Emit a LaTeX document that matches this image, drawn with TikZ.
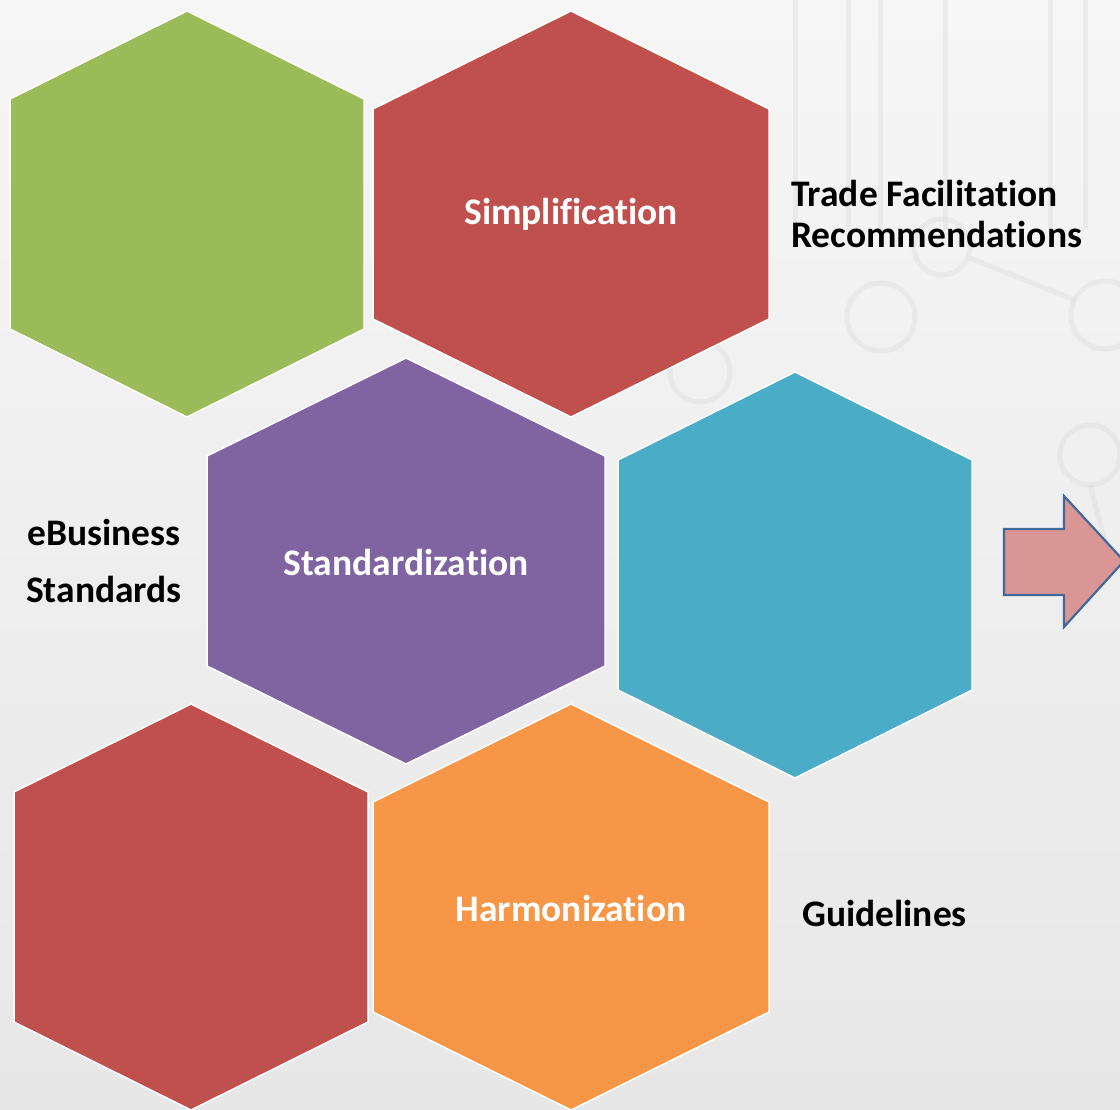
\documentclass[tikz,border=0pt]{standalone}
\usepackage{fontspec}
\setmainfont{Carlito}[Ligatures=NoCommon]
\usetikzlibrary{calc}
\usepackage{xcolor}

\definecolor{hexgreen}{HTML}{9BBB59}
\definecolor{hexred}{HTML}{C0504D}
\definecolor{hexpurple}{HTML}{8064A2}
\definecolor{hexcyan}{HTML}{4BACC6}
\definecolor{hexorange}{HTML}{F79646}
\definecolor{arrowpink}{HTML}{D99694}
\definecolor{arrowblue}{HTML}{41689A}
\definecolor{bgtop}{HTML}{F6F6F6}
\definecolor{bgbottom}{HTML}{E7E7E7}
\definecolor{metroline}{HTML}{D9D9D9}

\begin{document}
\begin{tikzpicture}[x=1pt,y=-1pt,
    hexlabel/.style={text=white,font=\bfseries\fontsize{37.5}{42}\selectfont},
    sidelabel/.style={text=black,font=\bfseries\fontsize{37.5}{41}\selectfont}]

        % Background
        \useasboundingbox (0,0) rectangle (1120,1110);
        \shade[top color=bgtop, bottom color=bgbottom] (0,0) rectangle (1120,1110);

        % Faint metro lines
        \begin{scope}[metroline, line width=5pt, opacity=0.35]
          \foreach \x in {795,848,880,945,1050,1085}
          {
            \draw ({\x},0) -- ({\x},230);
          }
          \foreach \x/\y/\r in {881/317/34, 942/247/28, 1105/315/34, 1090/455/30, 700/372/30}
          {
            \draw ({\x},{\y}) circle ({\r});
          }
          \draw (970,258) -- (1075,300);
          \draw (1090,485) -- (1110,560);
        \end{scope}

        % Hexagons
        \foreach \name/\cx/\cy/\w/\s/\col in {green/187/214/177/115/hexgreen,
                                             simp/571/214/198/105/hexred,
                                             stand/406/561/199/105/hexpurple,
                                             cyan/795/575/177/115/hexcyan,
                                             red/191/907/177/115/hexred,
                                             harm/571/907/198/105/hexorange}
        {
          \coordinate (\name) at ({\cx},{\cy});
          \fill[\col, draw=white, line width=1.5pt]
            ($(\name)+(0,-203)$) -- ($(\name)+(\w,-\s)$) -- ($(\name)+(\w,\s)$) --
            ($(\name)+(0,203)$) -- ($(\name)+(-\w,\s)$) -- ($(\name)+(-\w,-\s)$) -- cycle;
        }

        % Hexagon labels
        \node[hexlabel] (simplification) at (simp) {Simplification};
        \node[hexlabel] (standardization) at ($(stand)+(0,1)$) {Standardization};
        \node[hexlabel] (harmonization) at ($(harm)+(0,1)$) {Harmonization};

        % Side labels
        \node[sidelabel, anchor=west, align=left, inner sep=0pt] (trade) at (791,214)
          {Trade Facilitation\\Recommendations};
        \node[sidelabel, align=center, inner sep=0pt, font=\bfseries\fontsize{37.5}{57}\selectfont]
          (ebusiness) at (104,561) {eBusiness\\Standards};
        \node[sidelabel, anchor=west, inner sep=0pt] (guidelines) at (802,913) {Guidelines};

        % Block arrow
        \draw[arrowblue, fill=arrowpink, line width=2.2pt, line join=miter]
          (1004,529) -- (1064,529) -- (1064,496) -- (1124,561) --
          (1064,627) -- (1064,595) -- (1004,595) -- cycle;
    \end{tikzpicture}
\end{document}
